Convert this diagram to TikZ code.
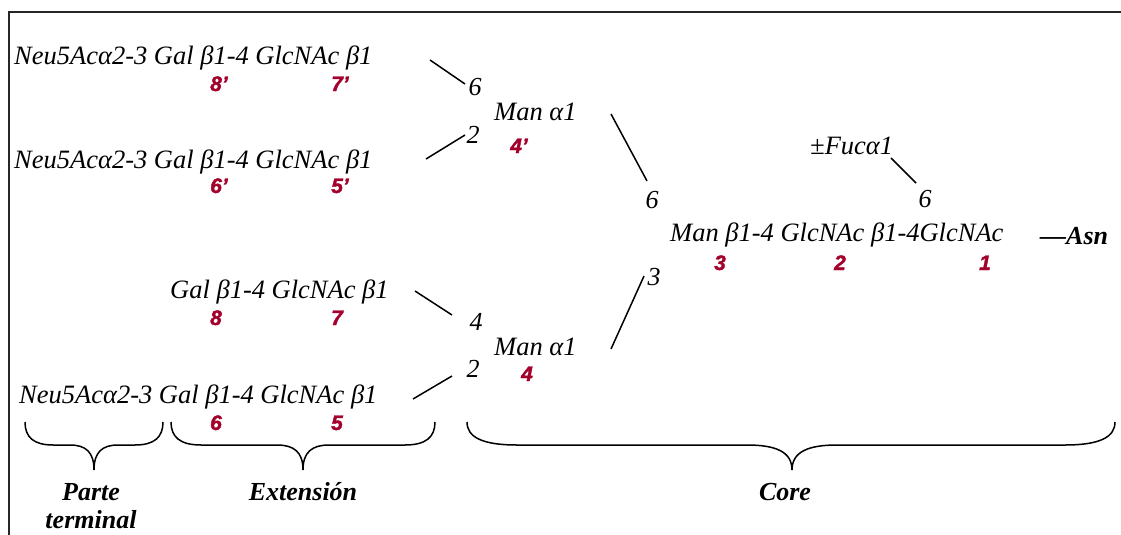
\documentclass[tikz,border=0pt]{standalone}
\usepackage{fontspec}
\setmainfont{Liberation Serif}
\newfontfamily\numfont{Liberation Sans}[BoldItalicFeatures={FakeBold=1.6}]
\definecolor{numred}{HTML}{A3002C}
\newcommand\curlybrace[5]{%
  \draw[brc] (#1,422) .. controls (#1,437) and ({#1+0.3*#4},445) .. ({#1+#4},445)
    -- ({#3-#5},445) .. controls ({#3-0.35*#5},445) and (#3,452) .. (#3,470)
    .. controls (#3,452) and ({#3+0.35*#5},445) .. ({#3+#5},445)
    -- ({#2-#4},445) .. controls ({#2-0.3*#4},445) and (#2,437) .. (#2,422);}
\tikzset{
  txt/.style={font=\fontsize{26.5}{30}\selectfont\itshape, inner sep=0pt, anchor=base west},
  lnk/.style={font=\fontsize{26}{30}\selectfont\itshape, inner sep=0pt, anchor=base},
  num/.style={font=\fontsize{21}{24}\selectfont\numfont\bfseries\itshape, text=numred, inner sep=0pt, anchor=base},
  lbl/.style={font=\fontsize{26}{30}\selectfont\bfseries\itshape, inner sep=0pt, anchor=base},
  bond/.style={line width=1.5pt},
  brc/.style={line width=1.5pt},
  frame/.style={line width=1.6pt, draw=black!85},
}
\begin{document}
\begin{tikzpicture}[x=1pt,y=-1pt]
\useasboundingbox (0,0) rectangle (1121,535);
\draw[frame] (1121,12) coordinate (fr) -- (9,12) coordinate (fc) -- (9,535) coordinate (fb);

% antennae
\node[txt] (r1) at (14,65) {Neu5Acα2-3 Gal β1-4 GlcNAc β1};
\node[num] (n8p) at (219,91) {8’};
\node[num] (n7p) at (340,91) {7’};
\node[txt] (r2) at (14,168) {Neu5Acα2-3 Gal β1-4 GlcNAc β1};
\node[num] (n6p) at (219,193) {6’};
\node[num] (n5p) at (340,193) {5’};
\node[txt] (r3) at (170,298) {Gal β1-4 GlcNAc β1};
\node[num] (n8) at (216,325) {8};
\node[num] (n7) at (337,325) {7};
\node[txt] (r4) at (19,403) {Neu5Acα2-3 Gal β1-4 GlcNAc β1};
\node[num] (n6) at (216,430) {6};
\node[num] (n5) at (337,430) {5};

% upper mannose
\node[lnk] (k6a) at (475,95) {6};
\node[lnk] (k2a) at (473,143) {2};
\node[txt] (manu) at (494,120) {Man α1};
\node[num] (n4p) at (519,153) {4’};
% lower mannose
\node[lnk] (k4b) at (476,330) {4};
\node[lnk] (k2b) at (473,377) {2};
\node[txt] (manl) at (494,355) {Man α1};
\node[num] (n4) at (527,381) {4};

% core
\node[lnk] (k6c) at (652,208) {6};
\node[lnk] (k3c) at (654,285) {3};
\node[txt] (fuc) at (810,154) {±Fucα1};
\node[lnk] (k6f) at (925,207) {6};
\node[txt] (core) at (670,241) {Man β1-4 GlcNAc β1-4GlcNAc};
\node[num] (n3) at (720,270) {3};
\node[num] (n2) at (840,270) {2};
\node[num] (n1) at (985,270) {1};
\node[lbl, anchor=base west] (asn) at (1040,244) {—Asn};

% bonds
\coordinate (a1) at (430,60);  \coordinate (b1) at (465,84);
\coordinate (a2) at (426,159); \coordinate (b2) at (465,135);
\coordinate (a3) at (611,114); \coordinate (b3) at (647,181);
\coordinate (a4) at (891,158); \coordinate (b4) at (916,183);
\coordinate (a5) at (415,291); \coordinate (b5) at (452,315);
\coordinate (a6) at (413,399); \coordinate (b6) at (452,376);
\coordinate (a7) at (611,349); \coordinate (b7) at (644,276);
\draw[bond] (a1) -- (b1);
\draw[bond] (a2) -- (b2);
\draw[bond] (a3) -- (b3);
\draw[bond] (a4) -- (b4);
\draw[bond] (a5) -- (b5);
\draw[bond] (a6) -- (b6);
\draw[bond] (a7) -- (b7);

% braces
\curlybrace{25}{163}{94}{28}{24}
\curlybrace{171}{435}{303}{30}{26}
\curlybrace{467}{1115}{792}{50}{45}

\node[lbl] (parte) at (91,500) {Parte};
\node[lbl] (term) at (91,528) {terminal};
\node[lbl] (ext) at (303,500) {Extensión};
\node[lbl] (corel) at (785,500) {Core};
\end{tikzpicture}
\end{document}
